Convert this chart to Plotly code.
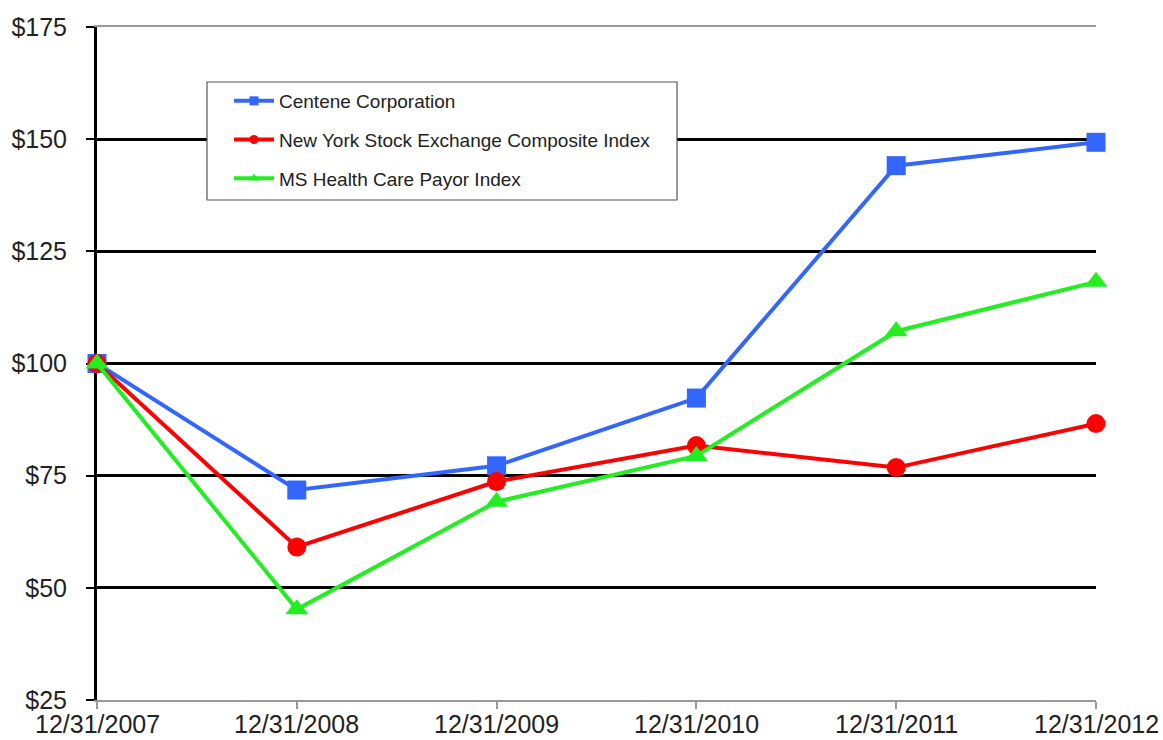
import plotly.graph_objects as go

dates = ["12/31/2007", "12/31/2008", "12/31/2009", "12/31/2010", "12/31/2011", "12/31/2012"]
centene = [100, 71.8, 77.2, 92.3, 144.1, 149.3]
nyse = [100, 59.1, 73.7, 81.7, 76.8, 86.6]
ms_payor = [100, 45.2, 69.2, 79.4, 107.2, 118.2]
y_ticks = [25, 50, 75, 100, 125, 150, 175]
y_tick_text = ["$" + str(v) for v in y_ticks]

series = [
    ("Centene Corporation", centene, "#3366FF", "square"),
    ("New York Stock Exchange Composite Index", nyse, "#FF0000", "circle"),
    ("MS Health Care Payor Index", ms_payor, "#22EE22", "triangle-up"),
]

fig = go.Figure()
for name, vals, color, sym in series:
    fig.add_trace(go.Scatter(
        x=dates, y=vals, mode="lines+markers", name=name, showlegend=False,
        line=dict(color=color, width=4),
        marker=dict(symbol=sym, size=19 if sym != "triangle-up" else 20, color=color),
        cliponaxis=False,
    ))
for i, (name, vals, color, sym) in enumerate(series):
    fig.add_trace(go.Scatter(
        x=[None], y=[None], mode="lines+markers", name=name, legendgroup="g%d" % i,
        line=dict(color=color, width=4),
        marker=dict(symbol=sym, size=9, color=color),
    ))

# legend frame
fig.add_shape(type="rect", xref="paper", yref="paper",
              x0=(207 - 97) / 999, x1=(677 - 97) / 999,
              y0=(700 - 200) / 673, y1=(700 - 82) / 673,
              line=dict(color="#555555", width=1.2), fillcolor="white", layer="above")

# x tick labels placed just below the axis
for d in dates:
    fig.add_annotation(x=d, xref="x", y=0, yref="paper", yanchor="top",
                       text=d, showarrow=False, yshift=-9, borderpad=0,
                       font=dict(size=25, color="#222222"))

fig.update_layout(
    width=1163, height=740,
    margin=dict(l=97, r=67, t=27, b=40, autoexpand=False),
    paper_bgcolor="white", plot_bgcolor="white",
    font=dict(family="Liberation Sans, Arial, sans-serif", color="#222222"),
    showlegend=True,
    legend=dict(
        x=(229 - 97) / 999, y=(700 - 82) / 673, xanchor="left", yanchor="top",
        borderwidth=0, bgcolor="rgba(0,0,0,0)",
        font=dict(size=19), tracegroupgap=11, itemwidth=40,
    ),
    xaxis=dict(
        type="category", range=[0, 5], showgrid=False, automargin=False,
        showline=True, linecolor="#999999", linewidth=2, mirror=True,
        ticks="outside", ticklen=7, tickcolor="#999999", tickwidth=1.5,
        showticklabels=False,
        zeroline=False,
    ),
    yaxis=dict(
        range=[25, 175], tickvals=y_ticks, ticktext=y_tick_text, automargin=False,
        showgrid=True, gridcolor="black", gridwidth=3,
        showline=True, linecolor="black", linewidth=3,
        ticks="outside", ticklen=8, tickcolor="black", tickwidth=2,
        tickfont=dict(size=25, color="#222222"),
        ticklabelstandoff=14,
        zeroline=False,
        layer="below traces",
    ),
)

fig.write_html("out.html", config={"displayModeBar": False},
               post_script="document.body.style.margin='0';document.body.style.overflow='hidden';")
